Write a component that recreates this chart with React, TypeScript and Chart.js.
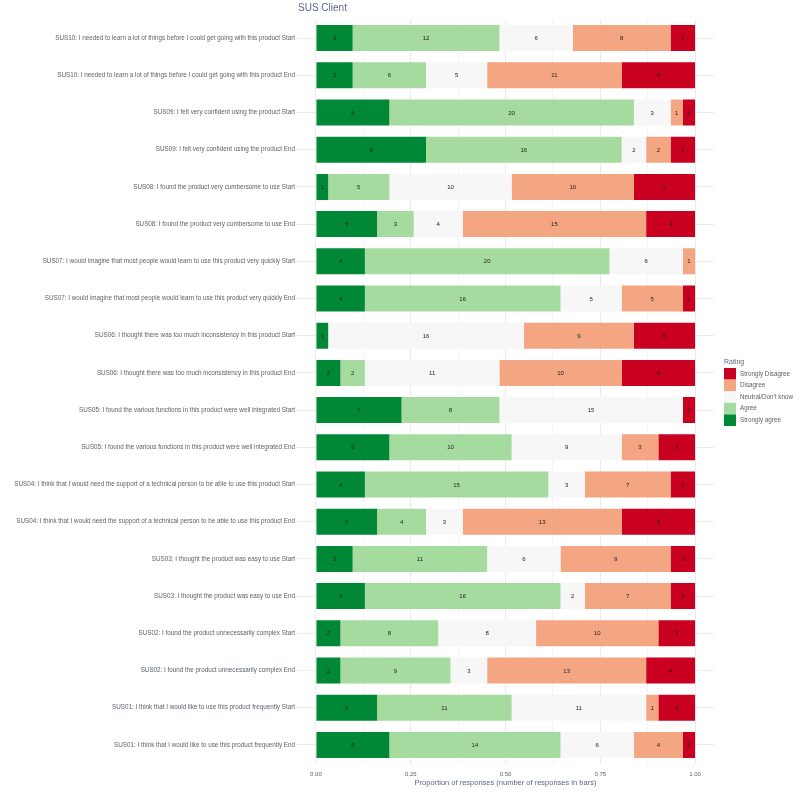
import React, { useEffect, useRef } from 'react';
import { Chart, registerables } from 'chart.js';

Chart.register(...registerables);

const categories = [
  'SUS10: I needed to learn a lot of things before I could get going with this product Start',
  'SUS10: I needed to learn a lot of things before I could get going with this product End',
  'SUS09: I felt very confident using the product Start',
  'SUS09: I felt very confident using the product End',
  'SUS08: I found the product very cumbersome to use Start',
  'SUS08: I found the product very cumbersome to use End',
  'SUS07: I would imagine that most people would learn to use this product very quickly Start',
  'SUS07: I would imagine that most people would learn to use this product very quickly End',
  'SUS06: I thought there was too much inconsistency in this product Start',
  'SUS06: I thought there was too much inconsistency in this product End',
  'SUS05: I found the various functions in this product were well integrated Start',
  'SUS05: I found the various functions in this product were well integrated End',
  'SUS04: I think that I would need the support of a technical person to be able to use this product Start',
  'SUS04: I think that I would need the support of a technical person to be able to use this product End',
  'SUS03: I thought the product was easy to use Start',
  'SUS03: I thought the product was easy to use End',
  'SUS02: I found the product unnecessarily complex Start',
  'SUS02: I found the product unnecessarily complex End',
  'SUS01: I think that I would like to use this product frequently Start',
  'SUS01: I think that I would like to use this product frequently End',
];

const stronglyAgree = [3, 3, 6, 9, 1, 5, 4, 4, 1, 2, 7, 6, 4, 5, 3, 4, 2, 2, 5, 6];
const agree = [12, 6, 20, 16, 5, 3, 20, 16, 0, 2, 8, 10, 15, 4, 11, 16, 8, 9, 11, 14];
const neutral = [6, 5, 3, 2, 10, 4, 6, 5, 16, 11, 15, 9, 3, 3, 6, 2, 8, 3, 11, 6];
const disagree = [8, 11, 1, 2, 10, 15, 1, 5, 9, 10, 0, 3, 7, 13, 9, 7, 10, 13, 1, 4];
const stronglyDisagree = [2, 6, 1, 2, 5, 4, 0, 1, 5, 6, 1, 3, 2, 6, 2, 2, 3, 4, 3, 1];

const ratingLabels = ['Strongly agree', 'Agree', "Neutral/Don't know", 'Disagree', 'Strongly Disagree'];
const ratingColors = ['#008837', '#a6dba0', '#f7f7f7', '#f4a582', '#ca0020'];
const xTickValues = [0, 0.25, 0.5, 0.75, 1];
const xTickLabels = ['0.00', '0.25', '0.50', '0.75', '1.00'];

const FONT = "'Liberation Sans', Arial, sans-serif";
const TITLE_COLOR = '#5b6788';
const TEXT_COLOR = '#5a5f6b';

export default function App() {
  const ref = useRef<HTMLCanvasElement>(null);

  useEffect(() => {
    const seriesValues = [stronglyAgree, agree, neutral, disagree, stronglyDisagree];
    const totals = categories.map((_, i) => seriesValues.reduce((s, arr) => s + arr[i], 0));

    const overlay = {
      id: 'overlay',
      afterDatasetsDraw(chart: any) {
        const ctx = chart.ctx;
        ctx.save();
        ctx.font = `6px ${FONT}`;
        ctx.fillStyle = '#222222';
        ctx.textAlign = 'center';
        ctx.textBaseline = 'middle';
        chart.data.datasets.forEach((ds: any, di: number) => {
          const meta = chart.getDatasetMeta(di);
          meta.data.forEach((el: any, i: number) => {
            const c = ds.counts[i];
            if (!c) return;
            ctx.fillText(String(c), (el.x + el.base) / 2, el.y + 0.5);
          });
        });
        ctx.restore();
      },
      afterDraw(chart: any) {
        const ctx = chart.ctx;
        ctx.save();
        ctx.font = `10px ${FONT}`;
        ctx.fillStyle = TITLE_COLOR;
        ctx.textAlign = 'left';
        ctx.textBaseline = 'middle';
        ctx.fillText('SUS Client', 298, 8);
        const lx = 724;
        const ly = 368;
        const bh = 11.6;
        ctx.font = `7px ${FONT}`;
        ctx.fillStyle = TITLE_COLOR;
        ctx.fillText('Rating', lx, ly - 6);
        for (let k = 0; k < ratingLabels.length; k++) {
          const idx = ratingLabels.length - 1 - k;
          const y = ly + k * bh;
          ctx.fillStyle = ratingColors[idx];
          ctx.fillRect(lx, y, 12, bh);
          ctx.fillStyle = TEXT_COLOR;
          ctx.font = `6.3px ${FONT}`;
          ctx.fillText(ratingLabels[idx], lx + 16, y + bh / 2);
        }
        ctx.restore();
      },
    };

    const chart = new Chart(ref.current as HTMLCanvasElement, {
      type: 'bar',
      data: {
        labels: categories,
        datasets: seriesValues.map((vals, s) => ({
          label: ratingLabels[s],
          data: vals.map((v, i) => v / totals[i]),
          counts: vals,
          backgroundColor: ratingColors[s],
          borderWidth: 0,
          barPercentage: 0.7,
          categoryPercentage: 1,
        })) as any,
      },
      options: {
        indexAxis: 'y',
        responsive: false,
        animation: false,
        layout: { padding: { top: 19.5, right: 86, left: 0, bottom: 12 } },
        plugins: {
          legend: { display: false },
          tooltip: { enabled: false },
          title: { display: false },
        },
        scales: {
          x: {
            stacked: true,
            min: -0.05,
            max: 1.05,
            border: { display: false },
            afterBuildTicks(scale: any) {
              const t: any[] = [];
              for (let k = 0; k <= 8; k++) t.push({ value: k * 0.125 });
              scale.ticks = t;
            },
            afterFit(scale: any) {
              scale.height = 24.5;
            },
            grid: {
              drawTicks: false,
              color: '#ebebeb',
              lineWidth: (c: any) => (xTickValues.some((v) => Math.abs(v - c.tick.value) < 1e-6) ? 1 : 0.5),
            },
            ticks: {
              padding: 7,
              autoSkip: false,
              maxRotation: 0,
              font: { size: 6, family: FONT },
              color: TEXT_COLOR,
              callback: (v: any) => {
                const idx = xTickValues.findIndex((t) => Math.abs(t - Number(v)) < 1e-6);
                return idx >= 0 ? xTickLabels[idx] : '';
              },
            },
            title: {
              display: true,
              text: 'Proportion of responses (number of responses in bars)',
              color: TITLE_COLOR,
              font: { size: 7.5, family: FONT },
              padding: { top: 0, bottom: 1 },
            },
          },
          y: {
            stacked: true,
            border: { display: false },
            afterFit(scale: any) {
              scale.width = 297;
            },
            grid: { drawTicks: false, offset: false, color: '#ebebeb', lineWidth: 1 },
            ticks: {
              autoSkip: false,
              padding: 2,
              font: { size: 6.3, family: FONT },
              color: TEXT_COLOR,
            },
          },
        },
      } as any,
      plugins: [overlay],
    });
    return () => chart.destroy();
  }, []);

  return (
    <div style={{ position: 'fixed', left: 0, top: 0, width: 800, height: 800, background: '#ffffff' }}>
      <canvas ref={ref} width={800} height={800} style={{ display: 'block' }} />
    </div>
  );
}
